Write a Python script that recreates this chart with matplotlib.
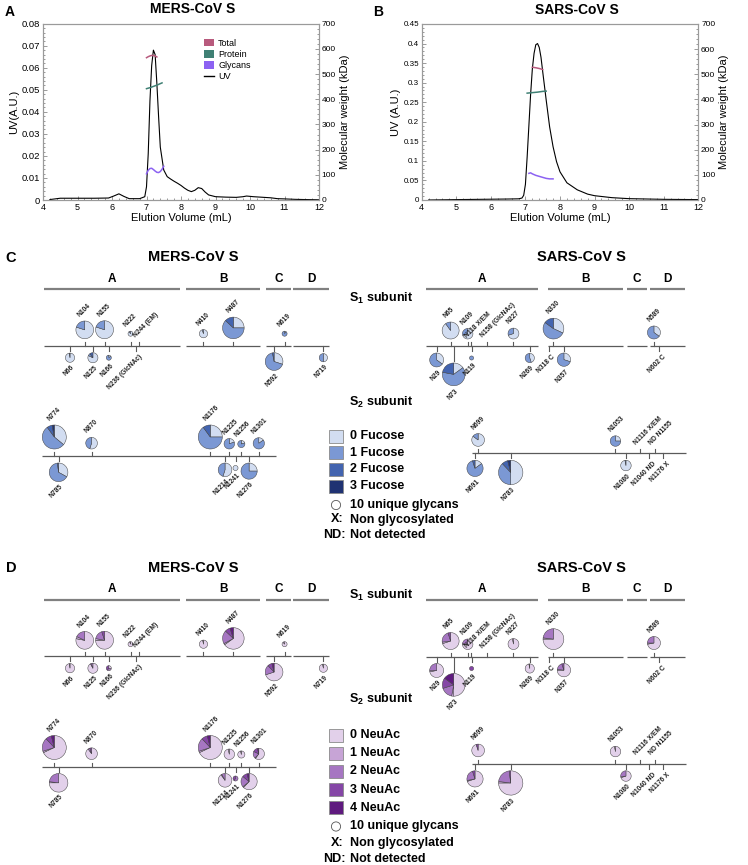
import matplotlib
matplotlib.use("Agg")
import matplotlib.pyplot as plt
from matplotlib.patches import Wedge, Circle, Rectangle, Patch
from matplotlib.lines import Line2D
from matplotlib.ticker import AutoMinorLocator, MultipleLocator
import numpy as np

plt.rcParams['font.family'] = ['Liberation Sans', 'DejaVu Sans']
plt.rcParams['mathtext.fontset'] = 'custom'
plt.rcParams['mathtext.rm'] = 'Liberation Sans'
plt.rcParams['mathtext.bf'] = 'Liberation Sans:bold'

# ---------------- SEC-MALS traces (panels A, B) ----------------
mers_vol = [4.2, 4.5, 5.0, 5.5, 5.9, 6.05, 6.2, 6.35, 6.5, 6.8, 6.95, 7.0, 7.05, 7.1,
            7.15, 7.2, 7.25, 7.3, 7.35, 7.4, 7.5, 7.6, 7.7, 7.8, 7.9, 8.0, 8.1, 8.2,
            8.3, 8.4, 8.5, 8.6, 8.7, 8.8, 9.0, 9.3, 9.6, 9.8, 9.9, 10.1, 10.4, 10.6,
            10.8, 11.0, 11.3, 11.6, 12.0]
mers_uv = [0.0002, 0.0008, 0.0008, 0.0008, 0.0009, 0.0018, 0.0028, 0.0016, 0.0006,
           0.0006, 0.0015, 0.006, 0.021, 0.045, 0.061, 0.068, 0.066, 0.053, 0.038,
           0.024, 0.0136, 0.0106, 0.0095, 0.0085, 0.0076, 0.0066, 0.0054, 0.0044,
           0.0038, 0.0044, 0.0056, 0.0052, 0.0036, 0.0023, 0.0015, 0.0013, 0.0012,
           0.0015, 0.0018, 0.0015, 0.0012, 0.0010, 0.0006, 0.0005, 0.0003, 0.0002, 0.0001]
mers_total_vol = [7.0, 7.05, 7.1, 7.15, 7.2, 7.25, 7.3]
mers_total_mw = [565, 569, 572, 574, 574, 572, 568]
mers_prot_vol = [7.0, 7.1, 7.2, 7.3, 7.4, 7.45]
mers_prot_mw = [442, 446, 451, 456, 462, 465]
mers_gly_vol = [7.0, 7.05, 7.1, 7.15, 7.2, 7.25, 7.3, 7.35, 7.4, 7.45, 7.5]
mers_gly_mw = [104, 118, 125, 126, 121, 115, 110, 109, 113, 122, 134]
mers_notes = ['572 +/- 3.4 kDa', '450.8 +/- 3.4 kDa', '121.2 +/- 4.4 kDa']

sars_vol = [4.2, 5.0, 6.0, 6.5, 6.8, 6.9, 6.95, 7.0, 7.05, 7.1, 7.15, 7.2, 7.25, 7.3,
            7.35, 7.4, 7.45, 7.5, 7.6, 7.7, 7.8, 7.9, 8.0, 8.2, 8.5, 8.8, 9.0, 9.5,
            10.0, 11.0, 12.0]
sars_uv = [0.0, 0.001, 0.002, 0.0025, 0.003, 0.005, 0.012, 0.04, 0.11, 0.19, 0.27,
           0.335, 0.375, 0.397, 0.400, 0.390, 0.365, 0.328, 0.256, 0.187, 0.136,
           0.098, 0.072, 0.044, 0.026, 0.015, 0.011, 0.006, 0.0034, 0.0017, 0.001]
sars_total_vol = [7.2, 7.3, 7.4, 7.5]
sars_total_mw = [528, 526, 523, 519]
sars_prot_vol = [7.05, 7.2, 7.35, 7.5, 7.6]
sars_prot_mw = [425, 427, 429, 432, 433]
sars_gly_vol = [7.1, 7.15, 7.2, 7.3, 7.4, 7.5, 7.6, 7.7, 7.8]
sars_gly_mw = [106, 108, 104, 98, 94, 90, 86, 84, 84]
sars_notes = ['524 +/- 1.42 kDa', '427.6 +/- 1.15 kDa', '97.8 +/- 1.4 kDa']

# ---------------- site-specific glycans (panels C, D) ----------------
fucose_labels = ['0 Fucose', '1 Fucose', '2 Fucose', '3 Fucose']
neuac_labels = ['0 NeuAc', '1 NeuAc', '2 NeuAc', '3 NeuAc', '4 NeuAc']
domain_names = ['A', 'B', 'C', 'D']
mers_dom_start = [0, 365, 571, 641]
mers_dom_end = [349, 556, 636, 733]
sars_dom_start = [1, 316, 519, 579]
sars_dom_end = [289, 510, 570, 669]
mers_s2_span = [741, 1346]
sars_s2_span = [683, 1234]

mers_s1_sites = ['N66', 'N104', 'N125', 'N155', 'N166', 'N222', 'N236 (GlcNAc)',
                 'N244 (EM)', 'N410', 'N487', 'N592', 'N619', 'N719']
mers_s1_res = [66, 104, 125, 155, 166, 222, 236, 244, 410, 487, 592, 619, 719]
mers_s1_glycans = [10, 37, 12, 38, 3, 3, 0, 0, 8, 55, 37, 3, 8]
mers_s1_fuc = [[0.97, 0.03, 0, 0], [0.8, 0.2, 0, 0], [0.82, 0.08, 0.1, 0],
               [0.8, 0.2, 0, 0], [0.15, 0.85, 0, 0], [0.9, 0.1, 0, 0], None, None,
               [0.95, 0.05, 0, 0], [0.25, 0.62, 0.13, 0], [0.3, 0.67, 0.03, 0],
               [0.1, 0.9, 0, 0], [0.5, 0.5, 0, 0]]
mers_s1_neu = [[0.97, 0.03, 0, 0, 0], [0.78, 0.04, 0.18, 0, 0], [0.92, 0.02, 0.06, 0, 0],
               [0.75, 0.03, 0.17, 0.05, 0], [0.3, 0, 0.3, 0.4, 0], [0.95, 0.05, 0, 0, 0],
               None, None, [0.97, 0.03, 0, 0, 0], [0.65, 0.02, 0.2, 0.08, 0.05],
               [0.7, 0, 0.18, 0.08, 0.04], [0.9, 0.1, 0, 0, 0], [0.97, 0.03, 0, 0, 0]]

mers_s2_sites = ['N774', 'N785', 'N870', 'N1176', 'N1214', 'N1225', 'N1241', 'N1256',
                 'N1276', 'N1301']
mers_s2_res = [774, 785, 870, 1176, 1214, 1225, 1241, 1256, 1276, 1301]
mers_s2_glycans = [68, 41, 16, 68, 22, 13, 3, 6, 31, 15]
mers_s2_fuc = [[0.36, 0.54, 0.07, 0.03], [0.33, 0.65, 0.02, 0], [0.55, 0.45, 0, 0],
               [0.25, 0.65, 0.1, 0], [0.55, 0.45, 0, 0], [0.2, 0.8, 0, 0], [1, 0, 0, 0],
               [0.2, 0.8, 0, 0], [0.25, 0.75, 0, 0], [0.15, 0.85, 0, 0]]
mers_s2_neu = [[0.68, 0.02, 0.18, 0.08, 0.04], [0.75, 0.02, 0.23, 0, 0],
               [0.9, 0, 0.05, 0.05, 0], [0.68, 0.02, 0.18, 0.08, 0.04],
               [0.9, 0.02, 0.08, 0, 0], [0.97, 0.03, 0, 0, 0], [0, 0, 0.6, 0.4, 0],
               [0.97, 0.03, 0, 0, 0], [0.62, 0.02, 0.22, 0.1, 0.04],
               [0.6, 0.02, 0.2, 0.14, 0.04]]

sars_s1_sites = ['N29', 'N65', 'N73', 'N109', 'N118 X/EM', 'N119', 'N158 (GlcNAc)',
                 'N227', 'N269', 'N318 C', 'N330', 'N357', 'N589', 'N602 C']
sars_s1_res = [29, 65, 73, 109, 118, 119, 158, 227, 269, 318, 330, 357, 589, 602]
sars_s1_glycans = [23, 34, 61, 13, 0, 2, 0, 14, 10, 0, 51, 21, 20, 0]
sars_s1_fuc = [[0.35, 0.65, 0, 0], [0.9, 0.1, 0, 0], [0.15, 0.63, 0.22, 0],
               [0.7, 0.3, 0, 0], None, [0, 1, 0, 0], None, [0.7, 0.3, 0, 0],
               [0.45, 0.55, 0, 0], None, [0.32, 0.53, 0.15, 0], [0.3, 0.7, 0, 0],
               [0.35, 0.65, 0, 0], None]
sars_s1_neu = [[0.72, 0.03, 0.25, 0, 0], [0.7, 0.03, 0.22, 0.05, 0],
               [0.5, 0.03, 0.17, 0.15, 0.15], [0.75, 0.02, 0.23, 0, 0], None,
               [0, 0, 0, 1, 0], None, [0.97, 0.03, 0, 0, 0], [0.97, 0.03, 0, 0, 0], None,
               [0.75, 0.02, 0.23, 0, 0], [0.75, 0.02, 0.18, 0.05, 0],
               [0.72, 0.03, 0.25, 0, 0], None]

sars_s2_sites = ['N691', 'N699', 'N783', 'N1053', 'N1080', 'N1116 X/EM', 'N1040 ND',
                 'ND N1155', 'N1176 X']
sars_s2_res = [691, 699, 783, 1053, 1080, 1116, 1140, 1155, 1176]
sars_s2_glycans = [31, 19, 70, 13, 13, 0, 0, 0, 0]
sars_s2_fuc = [[0.15, 0.8, 0.05, 0], [0.85, 0.15, 0, 0], [0.5, 0.38, 0.08, 0.04],
               [0.25, 0.75, 0, 0], [0.97, 0.03, 0, 0], None, None, None, None]
sars_s2_neu = [[0.7, 0.02, 0.23, 0.05, 0], [0.95, 0, 0, 0.05, 0],
               [0.75, 0.02, 0.21, 0.02, 0], [0.97, 0.03, 0, 0, 0],
               [0.7, 0.03, 0.27, 0, 0], None, None, None, None]

# ---------------- layout / style ----------------
mers_s1_side = [-1, 1, -1, 1, -1, 1, -1, 1, 1, 1, -1, 1, -1]
mers_s2_side = [1, -1, 1, 1, -1, 1, -1, 1, -1, 1]
sars_s1_side = [-1, 1, -1, 1, 1, -1, 1, 1, -1, -1, 1, -1, 1, -1]
sars_s2_side = [-1, 1, -1, 1, -1, 1, -1, 1, -1]
extra_drop = {'N73': 10}

fuc_colors = ['#d2ddf1', '#7b98d4', '#4364b0', '#1f3272']
neu_colors = ['#e2d0ea', '#c7a4d6', '#a676c2', '#8546a6', '#5f1a7f']
c_total, c_prot, c_gly = '#b85a7d', '#3f8074', '#8c62f2'

W, H = 748, 865
K = 0.388   # px per residue
R10 = 4.6   # px radius of a 10-glycan pie
SHIFT = 310.5

fig = plt.figure(figsize=(W / 100, H / 100), dpi=100)

ov = fig.add_axes([0, 0, 1, 1])
ov.set_xlim(0, W)
ov.set_ylim(H, 0)
ov.axis('off')


def sec_panel(left, right, top, bottom, vol, uv, ymax, ystep, series, notes,
              note_x, note_y, ylab, fs_left, fs_note):
    ax = fig.add_axes([left / W, 1 - bottom / H, (right - left) / W, (bottom - top) / H])
    ax.plot(vol, uv, color='black', lw=0.8)
    ax.set_xlim(4, 12)
    ax.set_ylim(0, ymax)
    ax.yaxis.set_major_locator(MultipleLocator(ystep))
    ax.xaxis.set_major_locator(MultipleLocator(1))
    ax.xaxis.set_minor_locator(AutoMinorLocator(5))
    ax.yaxis.set_minor_locator(AutoMinorLocator(5))
    ax.set_xlabel('Elution Volume (mL)', fontsize=8, labelpad=1)
    ax.set_ylabel(ylab, fontsize=8, labelpad=2)
    ax2 = ax.twinx()
    ax2.set_ylim(0, 700)
    ax2.yaxis.set_major_locator(MultipleLocator(100))
    ax2.yaxis.set_minor_locator(AutoMinorLocator(5))
    ax2.set_ylabel('Molecular weight (kDa)', fontsize=8, labelpad=3)
    for (v, m), c in zip(series, [c_total, c_prot, c_gly]):
        ax2.plot(v, m, color=c, lw=1.1)
    for a in (ax, ax2):
        for s in a.spines.values():
            s.set_color('#9a9a9a')
            s.set_linewidth(0.8)
        a.tick_params(which='both', direction='in', color='#8a8a8a', width=0.6, pad=2)
        a.tick_params(which='major', length=3)
        a.tick_params(which='minor', length=1.5)
    ax.tick_params(axis='y', labelsize=fs_left)
    ax.tick_params(axis='x', labelsize=6.5)
    ax2.tick_params(axis='y', labelsize=6)
    ax.yaxis.set_major_formatter(plt.FuncFormatter(lambda v, p: '0' if v == 0 else f'{v:g}'))
    for t, y in zip(notes, note_y):
        ov.text(note_x, y, t, fontsize=fs_note, va='center', ha='left')
    return ax


axA = sec_panel(43, 319, 23.7, 200, mers_vol, mers_uv, 0.08, 0.01,
                [(mers_total_vol, mers_total_mw), (mers_prot_vol, mers_prot_mw),
                 (mers_gly_vol, mers_gly_mw)],
                mers_notes, 70.5, [57.5, 90, 172.5], 'UV(A.U.)', 6.8, 6.5)
axB = sec_panel(421.7, 698.3, 24, 200, sars_vol, sars_uv, 0.45, 0.05,
                [(sars_total_vol, sars_total_mw), (sars_prot_vol, sars_prot_mw),
                 (sars_gly_vol, sars_gly_mw)],
                sars_notes, 450, [66, 88.5, 171], 'UV (A.U.)', 5.8, 6)
handles = [Patch(facecolor=c_total, label='Total'), Patch(facecolor=c_prot, label='Protein'),
           Patch(facecolor=c_gly, label='Glycans'), Line2D([], [], color='black', lw=1, label='UV')]
axA.legend(handles=handles, loc='upper left', bbox_to_anchor=(0.585, 0.915), frameon=False,
           fontsize=6.5, handlelength=1.1, handleheight=0.9, handletextpad=0.4,
           labelspacing=0.25, borderaxespad=0, borderpad=0)

ov.text(10, 12, 'A', fontsize=10, fontweight='bold', va='center', ha='center')
ov.text(378, 12, 'B', fontsize=10, fontweight='bold', va='center', ha='center')
ov.text(193, 9, 'MERS-CoV S', fontsize=10, fontweight='bold', va='center', ha='center')
ov.text(577, 10, 'SARS-CoV S', fontsize=10, fontweight='bold', va='center', ha='center')


def draw_row(x0, yline, lo, hi, segs, sites, res, ngly, fracs, colors, side, doms=None):
    up, down = 75, 45
    ax = fig.add_axes([(x0 + K * lo) / W, 1 - (yline + down) / H, K * (hi - lo) / W, (up + down) / H])
    ax.set_xlim(lo, hi)
    ax.set_ylim(-down / K, up / K)
    ax.axis('off')
    p = 1 / K
    for s, e in segs:
        ax.plot([s, e], [0, 0], color='#5a5a5a', lw=0.9, solid_capstyle='butt', clip_on=False)
    if doms is not None:
        for name, s, e in zip(*doms):
            ax.plot([s, e], [56.7 * p] * 2, color='#808080', lw=1.6, solid_capstyle='butt')
            ax.text((s + e) / 2, 67 * p, name, ha='center', va='center', fontsize=8.5,
                    fontweight='bold')
    for i, lab in enumerate(sites):
        x, sd = res[i], side[i]
        drop = extra_drop.get(lab, 0)
        tick = (4 if sd > 0 else 5) + drop
        ax.plot([x, x], [0, sd * tick * p], color='#5a5a5a', lw=0.8, clip_on=False)
        kw = dict(rotation=45, rotation_mode='anchor', fontsize=4.8, fontweight='bold',
                  color='#222222', clip_on=False)
        if ngly[i]:
            r = R10 * np.sqrt(ngly[i] / 10)
            cy = sd * (max(7 + r, 12) + drop) * p
            f = np.array(fracs[i], dtype=float)
            f = f / f.sum()
            start = 90.0
            for fi, c in zip(f, colors):
                if fi <= 0:
                    continue
                ax.add_patch(Wedge((x, cy), r * p, start - fi * 360, start, facecolor=c,
                                   edgecolor='#404040', lw=0.35, clip_on=False))
                start -= fi * 360
            if sd > 0:
                ax.text(x - 3.5 * p, cy + (r + 2.5) * p, lab, ha='left', va='bottom', **kw)
            else:
                ax.text(x + 1 * p, cy - (r + 1.5) * p, lab, ha='right', va='top', **kw)
        else:
            if sd > 0:
                ax.text(x - 2.5 * p, (tick + 3) * p, lab, ha='left', va='bottom', **kw)
            else:
                ax.text(x + 3 * p, -(tick + 2.5) * p, lab, ha='right', va='top', **kw)


def glyco_panel(dy, key, colors, labels, letter, leg_y0, leg_step, extra_y, s1_y):
    idx = 0 if key == 'fuc' else 1
    mers_doms = (domain_names, mers_dom_start, mers_dom_end)
    sars_doms = (domain_names, sars_dom_start, sars_dom_end)
    draw_row(44.4, 345.7 + dy, mers_dom_start[0], mers_dom_end[-1],
             list(zip(mers_dom_start, mers_dom_end)), mers_s1_sites, mers_s1_res,
             mers_s1_glycans, [mers_s1_fuc, mers_s1_neu][idx], colors, mers_s1_side, mers_doms)
    draw_row(-246.0, 456 + dy, mers_s2_span[0], mers_s2_span[1], [mers_s2_span],
             mers_s2_sites, mers_s2_res, mers_s2_glycans, [mers_s2_fuc, mers_s2_neu][idx],
             colors, mers_s2_side)
    draw_row(425.4, 346 + dy, sars_dom_start[0], sars_dom_end[-1],
             list(zip(sars_dom_start, sars_dom_end)), sars_s1_sites, sars_s1_res,
             sars_s1_glycans, [sars_s1_fuc, sars_s1_neu][idx], colors, sars_s1_side, sars_doms)
    draw_row(206.9, 453.3 + dy, sars_s2_span[0], sars_s2_span[1], [sars_s2_span],
             sars_s2_sites, sars_s2_res, sars_s2_glycans, [sars_s2_fuc, sars_s2_neu][idx],
             colors, sars_s2_side)

    ov.text(11, 258 + dy, letter, fontsize=10.5, fontweight='bold', va='center', ha='center')
    ov.text(193, 257 + dy, 'MERS-CoV S', fontsize=10.5, fontweight='bold', va='center', ha='center')
    ov.text(581, 257 + dy, 'SARS-CoV S', fontsize=10.5, fontweight='bold', va='center', ha='center')
    ov.text(381, s1_y, r'$\mathbf{S_1}$ subunit', fontsize=9, fontweight='bold', va='center', ha='center')
    ov.text(381, s1_y + 104, r'$\mathbf{S_2}$ subunit', fontsize=9, fontweight='bold', va='center', ha='center')

    for i, (lab, c) in enumerate(zip(labels, colors)):
        y = leg_y0 + i * leg_step
        ov.add_patch(Rectangle((329, y - 6.5), 14, 13, facecolor=c, edgecolor='#8a8a8a', lw=0.6))
        ov.text(350, y, lab, fontsize=9, fontweight='bold', va='center', ha='left')
    yc, yx, ynd = extra_y
    ov.add_patch(Circle((336, yc), R10, facecolor='white', edgecolor='#555555', lw=0.6))
    ov.text(350, yc, '10 unique glycans', fontsize=9, fontweight='bold', va='center', ha='left')
    ov.text(331, yx, 'X:', fontsize=9, fontweight='bold', va='center', ha='left')
    ov.text(350, yx, 'Non glycosylated', fontsize=9, fontweight='bold', va='center', ha='left')
    ov.text(323, ynd, 'ND:', fontsize=9, fontweight='bold', va='center', ha='left')
    ov.text(350, ynd, 'Not detected', fontsize=9, fontweight='bold', va='center', ha='left')


glyco_panel(0, 'fuc', fuc_colors, fucose_labels, 'C', 436, 16.7, (505, 519.5, 535.5), 298)
glyco_panel(SHIFT, 'neu', neu_colors, neuac_labels, 'D', 735, 18.2, (826.5, 843, 859), 595)

fig.savefig('out.png', dpi=100)
